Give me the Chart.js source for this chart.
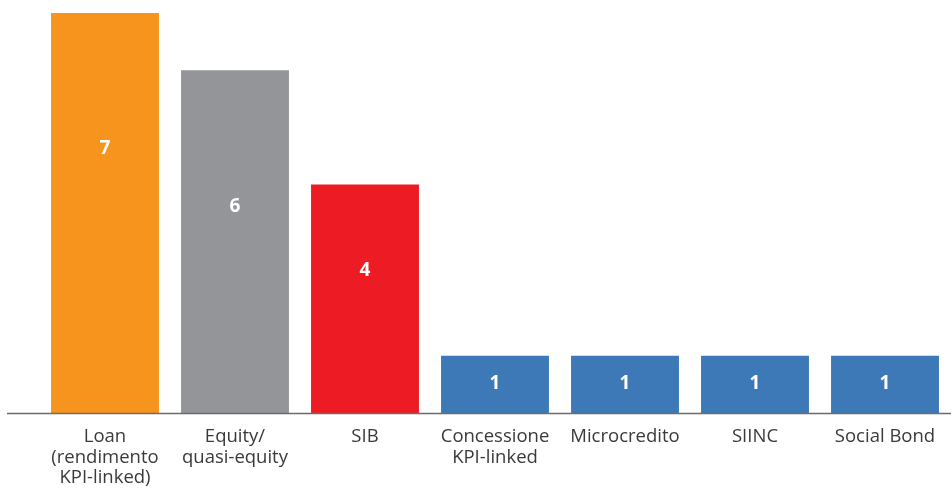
<!DOCTYPE html>
<html>
<head>
<meta charset="utf-8">
<script src="https://cdn.jsdelivr.net/npm/chart.js@4"></script>
<style>
  html, body { margin: 0; padding: 0; background: #fff; }
  #wrap { width: 951px; height: 488px; }
</style>
</head>
<body>
<div id="wrap"><canvas id="chart" width="951" height="488"></canvas></div>
<script>
const categories = [
  ['Loan', '(rendimento', 'KPI-linked)'],
  ['Equity/', 'quasi-equity'],
  'SIB',
  ['Concessione', 'KPI-linked'],
  'Microcredito',
  'SIINC',
  'Social Bond'
];
const values = [7, 6, 4, 1, 1, 1, 1];
const barColors = ['#F7941D', '#939598', '#ED1C24', '#3D79B7', '#3D79B7', '#3D79B7', '#3D79B7'];
// where the number sits inside each bar, in data units
const labelAt = [4.63, 3.62, 2.5, 0.52, 0.52, 0.52, 0.52];

const valueLabels = {
  id: 'valueLabels',
  afterDatasetsDraw(chart) {
    const { ctx, scales: { x, y } } = chart;
    ctx.save();
    ctx.fillStyle = '#ffffff';
    ctx.font = 'bold 19px "Open Sans", sans-serif';
    ctx.textAlign = 'center';
    ctx.textBaseline = 'middle';
    values.forEach((v, i) => {
      ctx.fillText(String(v), x.getPixelForValue(i), y.getPixelForValue(labelAt[i]));
    });
    ctx.restore();
  }
};

const baseLine = {
  id: 'baseLine',
  afterDatasetsDraw(chart) {
    const { ctx, chartArea, scales: { y } } = chart;
    const yy = Math.round(y.getPixelForValue(0)) + 0.5;
    ctx.save();
    ctx.strokeStyle = '#6b6b6b';
    ctx.lineWidth = 1.5;
    ctx.beginPath();
    ctx.moveTo(7, yy);
    ctx.lineTo(chartArea.right + 1, yy);
    ctx.stroke();
    ctx.restore();
  }
};

new Chart(document.getElementById('chart').getContext('2d'), {
  type: 'bar',
  data: {
    labels: categories,
    datasets: [{
      data: values,
      backgroundColor: barColors,
      borderWidth: 0,
      categoryPercentage: 1,
      barPercentage: 0.83
    }]
  },
  options: {
    responsive: false,
    animation: false,
    layout: { padding: { left: 40, right: 1, top: 13, bottom: -6 } },
    plugins: {
      legend: { display: false },
      tooltip: { enabled: false }
    },
    scales: {
      x: {
        grid: { display: false },
        border: { display: false },
        ticks: {
          color: '#3a3a3a',
          font: { family: '"Open Sans", sans-serif', size: 18.5, lineHeight: 1.1 },
          padding: 6,
          maxRotation: 0,
          autoSkip: false
        }
      },
      y: {
        display: false,
        min: 0,
        max: 7
      }
    }
  },
  plugins: [valueLabels, baseLine]
});
</script>
</body>
</html>
